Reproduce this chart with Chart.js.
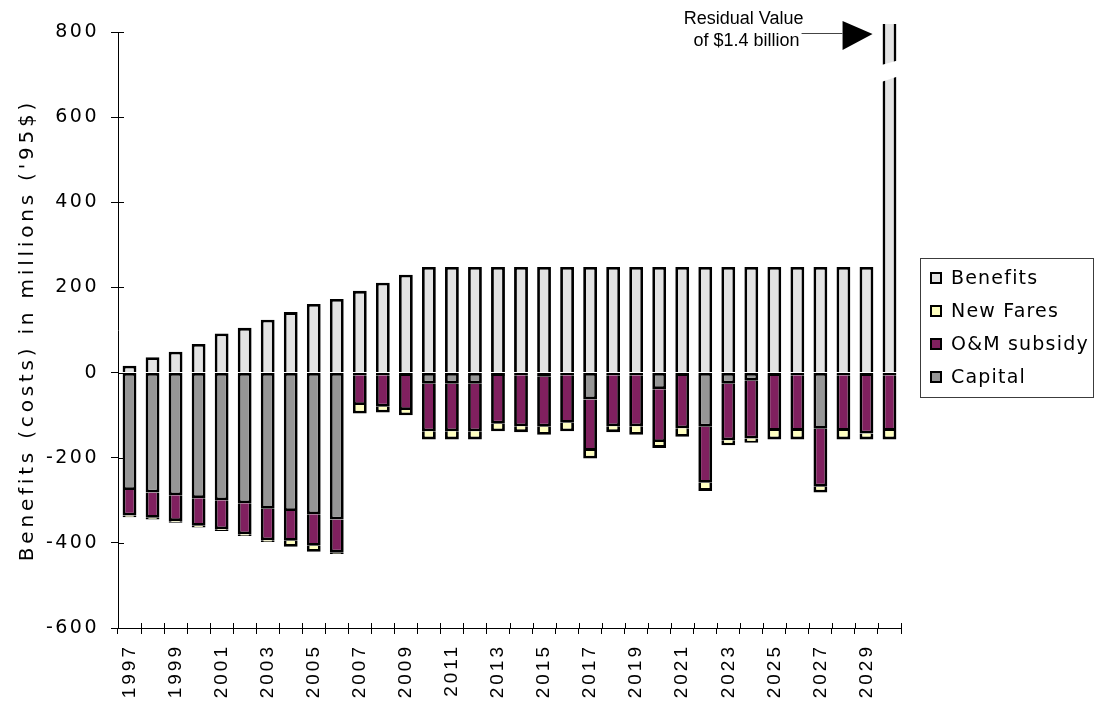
<!DOCTYPE html>
<html>
<head>
<meta charset="utf-8">
<script src="https://cdn.jsdelivr.net/npm/chart.js@4.4.1/dist/chart.umd.min.js"></script>
<style>
  html, body { margin: 0; padding: 0; background: #ffffff; }
  canvas { display: block; }
</style>
</head>
<body>
<canvas id="chart" width="1095" height="704"></canvas>
<script>
// Project years
const years = ['1997','1998','1999','2000','2001','2002','2003','2004','2005','2006',
  '2007','2008','2009','2010','2011','2012','2013','2014','2015','2016',
  '2017','2018','2019','2020','2021','2022','2023','2024','2025','2026',
  '2027','2028','2029','2030'];

// Annual benefits, millions of 1995 dollars
const benefits = [16, 36, 49, 67, 92, 105, 124, 142, 161, 173,
  192, 211, 230, 248, 248, 248, 248, 248, 248, 248,
  248, 248, 248, 248, 248, 248, 248, 248, 248, 248,
  248, 248, 248, 248];

// Residual value of the system, booked in the final year
const residualValue = 1400;

// Costs (negative), millions of 1995 dollars
const capital = [-276, -282, -288, -295, -300, -307, -320, -325, -333, -345,
  -6, -6, -8, -26, -26, -26, -8, -6, -10, -6,
  -63, -6, -6, -39, -8, -127, -26, -19, -8, -6,
  -132, -6, -8, -6];

const omSubsidy = [-60, -59, -61, -65, -68, -73, -74, -70, -74, -78,
  -70, -74, -80, -112, -112, -112, -112, -120, -117, -112,
  -121, -120, -120, -124, -123, -132, -133, -136, -129, -131,
  -136, -131, -135, -131];

const newFares = [-4, -4, -4, -4, -4, -4, -4, -14, -14, -3,
  -20, -14, -12, -19, -19, -19, -18, -14, -19, -20,
  -18, -14, -20, -14, -20, -19, -12, -10, -20, -20,
  -14, -20, -14, -20];

const yTicks = { min: -600, max: 800, step: 200 };
const breakValue = 708;

const lastIndex = years.length - 1;
const benefitBars = benefits.map((v, i) => i === lastIndex ? v + residualValue : v);

const BW = 2.8;
const barCommon = {
  borderColor: '#000000',
  borderSkipped: false,
  barPercentage: 0.6,
  categoryPercentage: 1.0
};

// Wraps a canvas-drawing method so its text is drawn with extra tracking
function tracked(obj, method, spacing) {
  const orig = obj[method];
  if (!orig || orig.__tracked) return;
  const wrapped = function (...args) {
    const ctx = this.ctx;
    const prev = ctx.letterSpacing;
    ctx.letterSpacing = spacing;
    try { return orig.apply(this, args); } finally { ctx.letterSpacing = prev; }
  };
  wrapped.__tracked = true;
  obj[method] = wrapped;
}

const textTracking = {
  id: 'textTracking',
  afterUpdate(chart) {
    tracked(chart.scales.x, 'drawLabels', '3px');
    tracked(chart.scales.y, 'drawLabels', '2.5px');
    tracked(chart.scales.y, 'drawTitle', '3.8px');
  }
};

// Short tick marks that cross into the plot area
const crossTicks = {
  id: 'crossTicks',
  beforeDatasetsDraw(chart) {
    const { ctx, chartArea: a, scales: { x, y } } = chart;
    ctx.save();
    ctx.strokeStyle = '#000';
    ctx.lineWidth = 1;
    ctx.beginPath();
    for (let i = 0; i <= years.length; i++) {
      const px = Math.round(x.getPixelForValue(i - 0.5)) + 0.5;
      ctx.moveTo(px, a.bottom);
      ctx.lineTo(px, a.bottom - 5);
    }
    y.ticks.forEach(t => {
      const py = Math.round(y.getPixelForValue(t.value)) + 0.5;
      ctx.moveTo(a.left, py);
      ctx.lineTo(a.left + 6, py);
    });
    ctx.stroke();
    ctx.restore();
  }
};

// Axis break on the final bar plus the residual value callout
const residualMark = {
  id: 'residualMark',
  afterDatasetsDraw(chart) {
    const { ctx, scales: { y } } = chart;
    const meta = chart.getDatasetMeta(3);
    const bar = meta.data[lastIndex];
    const half = bar.width / 2;
    const l = bar.x - half - 2, r = bar.x + half + 2;
    const yc = y.getPixelForValue(breakValue);
    ctx.save();
    ctx.fillStyle = '#ffffff';
    ctx.beginPath();
    ctx.moveTo(l, yc - 6);
    ctx.lineTo(r, yc - 11);
    ctx.lineTo(r, yc + 5);
    ctx.lineTo(l, yc + 11);
    ctx.closePath();
    ctx.fill();

    const top = y.getPixelForValue(yTicks.max);
    const tipX = bar.x - half - 10;
    const baseX = tipX - 30;
    ctx.fillStyle = '#000';
    ctx.beginPath();
    ctx.moveTo(baseX, top - 11);
    ctx.lineTo(tipX, top + 2);
    ctx.lineTo(baseX, top + 18);
    ctx.closePath();
    ctx.fill();

    ctx.strokeStyle = '#444';
    ctx.lineWidth = 1;
    ctx.beginPath();
    ctx.moveTo(baseX, Math.round(top + 1) + 0.5);
    ctx.lineTo(baseX - 41, Math.round(top + 1) + 0.5);
    ctx.stroke();

    ctx.font = '18px "Liberation Sans", Arial, sans-serif';
    ctx.textAlign = 'center';
    ctx.textBaseline = 'middle';
    const tx = tipX - 129;
    ctx.fillText('Residual Value', tx, top - 13);
    ctx.fillText('of $' + (residualValue / 1000).toFixed(1) + ' billion', tx + 3, top + 9);
    ctx.restore();
  }
};

// Boxed legend, listed from the top segment down
const legendBox = {
  id: 'legendBox',
  afterDraw(chart) {
    const ctx = chart.ctx;
    const items = chart.data.datasets.slice().reverse();
    ctx.save();
    ctx.strokeStyle = '#3c3c3c';
    ctx.lineWidth = 1;
    ctx.strokeRect(920.5, 258.5, 173, 139);
    ctx.font = '19px "DejaVu Sans", sans-serif';
    ctx.letterSpacing = '1.2px';
    ctx.textBaseline = 'middle';
    ctx.textAlign = 'left';
    items.forEach((ds, i) => {
      const cy = 278 + i * 33;
      ctx.fillStyle = '#000';
      ctx.fillRect(930, cy - 6, 12, 12);
      ctx.fillStyle = ds.backgroundColor;
      ctx.fillRect(932, cy - 4, 8, 8);
      ctx.fillStyle = '#000';
      ctx.fillText(ds.label, 951, cy + 1);
    });
    ctx.restore();
  }
};

new Chart(document.getElementById('chart'), {
  type: 'bar',
  data: {
    labels: years,
    datasets: [
      Object.assign({ label: 'Capital', data: capital, backgroundColor: '#969696',
        borderWidth: { top: BW, bottom: BW, left: BW, right: BW } }, barCommon),
      Object.assign({ label: 'O&M subsidy', data: omSubsidy, backgroundColor: '#80205F',
        borderWidth: { top: 0, bottom: BW, left: BW, right: BW } }, barCommon),
      Object.assign({ label: 'New Fares', data: newFares, backgroundColor: '#FFFFC0',
        borderWidth: { top: 0, bottom: BW, left: BW, right: BW } }, barCommon),
      Object.assign({ label: 'Benefits', data: benefitBars, backgroundColor: '#E3E3E3',
        borderWidth: { top: BW, bottom: 0, left: BW, right: BW },
        clip: { left: 5, top: 8, right: 5, bottom: 5 } }, barCommon)
    ]
  },
  options: {
    responsive: false,
    animation: false,
    layout: { padding: { top: 32, right: 194, bottom: 0, left: 0 } },
    plugins: {
      legend: { display: false },
      tooltip: { enabled: false }
    },
    scales: {
      x: {
        stacked: true,
        grid: { drawOnChartArea: false, drawTicks: true, tickLength: 6, color: '#000', offset: true },
        border: { display: true, color: '#000', width: 1 },
        ticks: {
          autoSkip: false,
          maxRotation: 90,
          minRotation: 90,
          padding: 10,
          color: '#000',
          font: { family: '"Liberation Sans", Arial, sans-serif', size: 19 },
          callback(value, index) { return index % 2 === 0 ? this.getLabelForValue(value) : ''; }
        },
        afterFit(scale) { scale.height = 76; }
      },
      y: {
        stacked: true,
        min: yTicks.min,
        max: yTicks.max,
        ticks: {
          stepSize: yTicks.step,
          padding: 12,
          color: '#000',
          font: { family: '"DejaVu Sans", Verdana, sans-serif', size: 19 }
        },
        grid: { drawOnChartArea: false, drawTicks: true, tickLength: 7, color: '#000' },
        border: { display: true, color: '#000', width: 1 },
        title: {
          display: true,
          text: "Benefits (costs) in millions ('95$)",
          color: '#000',
          font: { family: '"DejaVu Sans", Verdana, sans-serif', size: 20 },
          padding: { top: 16, bottom: 0 }
        },
        afterFit(scale) { scale.width = 118; }
      }
    }
  },
  plugins: [textTracking, crossTicks, residualMark, legendBox]
});
</script>
</body>
</html>
